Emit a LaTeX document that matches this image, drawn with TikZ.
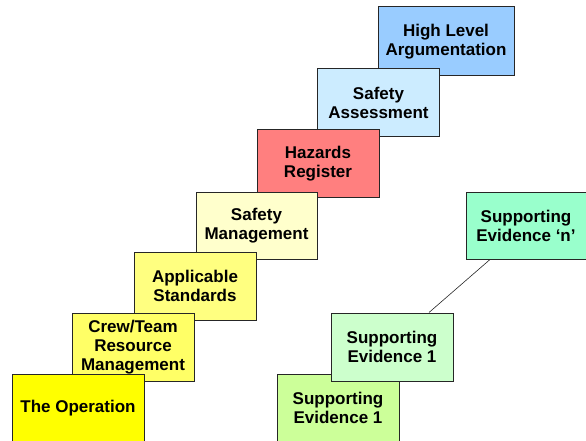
\documentclass[tikz,border=0pt]{standalone}
\usepackage{fontspec}
\setmainfont{Liberation Sans}

\definecolor{opyellow}{HTML}{FFFF00}
\definecolor{crewyellow}{HTML}{FFFF66}
\definecolor{stdyellow}{HTML}{FFFF80}
\definecolor{mgtyellow}{HTML}{FFFFCC}
\definecolor{hazred}{HTML}{FF7F7F}
\definecolor{assblue}{HTML}{CCECFF}
\definecolor{argblue}{HTML}{99CCFF}
\definecolor{evgreen}{HTML}{CCFF99}
\definecolor{evpale}{HTML}{CCFFCC}
\definecolor{evmint}{HTML}{99FFCC}

\tikzset{
    stepbox/.style={draw=black!85, line width=1pt, minimum width=122pt, minimum height=68pt,
        align=center, inner sep=2pt, font=\bfseries\fontsize{17}{19}\selectfont}
}

\begin{document}
\begin{tikzpicture}[x=1pt, y=-1pt]
    \useasboundingbox (0,0) rectangle (586,441);

    % Staircase, top step first so lower steps sit in front
    \node [stepbox, fill=argblue, minimum width=136pt, minimum height=69pt] (arg) at (446,41.5) {High Level\\Argumentation};
    \node [stepbox, fill=assblue] (ass) at (378.5,103) {Safety\\Assessment};
    \node [stepbox, fill=hazred, minimum height=67pt] (haz) at (318,163.5) {Hazards\\Register};
    \node [stepbox, fill=mgtyellow, minimum width=121pt, minimum height=67pt] (mgt) at (256.5,225.5) {Safety\\Management};
    \node [stepbox, fill=stdyellow] (std) at (195,286) {Applicable\\Standards};
    \node [stepbox, fill=crewyellow] (crew) at (133,347) {Crew/Team\\Resource\\Management};
    \node [stepbox, fill=opyellow, minimum width=132pt] (op) at (78,408) {The Operation};

    % Supporting evidence
    \node [stepbox, fill=evmint, minimum width=120pt, minimum height=67pt] (evn) at (526,225.5) {Supporting\\Evidence ‘n’};
    \node [stepbox, fill=evgreen] (ev0) at (338,408) {Supporting\\Evidence 1};
    \node [stepbox, fill=evpale] (ev1) at (392,347) {Supporting\\Evidence 1};

    % Link between evidence
    \draw [black!85, line width=0.6pt] ([xshift=-36pt]evn.south) -- ([xshift=37pt]ev1.north);
\end{tikzpicture}
\end{document}
